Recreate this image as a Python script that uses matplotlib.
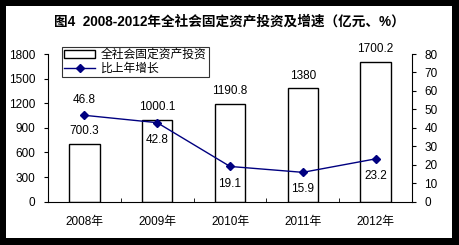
import matplotlib
matplotlib.use("Agg")
import matplotlib.pyplot as plt
from matplotlib.patches import Rectangle
import numpy as np

years = ["2008年", "2009年", "2010年", "2011年", "2012年"]
investment = [700.3, 1000.1, 1190.8, 1380, 1700.2]
growth = [46.8, 42.8, 19.1, 15.9, 23.2]
inv_labels = ["700.3", "1000.1", "1190.8", "1380", "1700.2"]
growth_labels = ["46.8", "42.8", "19.1", "15.9", "23.2"]

FONT = ["Liberation Sans", "Noto Sans CJK SC", "DejaVu Sans"]
plt.rcParams['font.family'] = FONT

fig = plt.figure(figsize=(4.59, 2.45), dpi=100)
fig.patch.set_facecolor("black")
fig.patches.append(Rectangle((6/459, 7/245), 446/459, 232/245, transform=fig.transFigure,
                             facecolor="white", edgecolor="none", zorder=-10))

ax = fig.add_axes([48/459, 43.3/245, 364/459, 147.7/245])
ax.set_facecolor("none")
x = np.arange(len(years))
ax.bar(x, investment, width=0.42, facecolor="white", edgecolor="black", linewidth=1.0,
       label="全社会固定资产投资", zorder=2)
ax.set_xlim(-0.5, 4.5)
ax.set_ylim(0, 1800)
ax.set_yticks(np.arange(0, 1801, 300))
ax.tick_params(axis='y', direction='out', length=3, labelsize=8.5, pad=6)
ax.set_xticks(x)
ax.set_xticklabels(years, fontsize=8.5)
ax.tick_params(axis='x', length=0, pad=10)
ax.set_xticks(np.arange(-0.5, 5, 1), minor=True)
ax.tick_params(axis='x', which='minor', direction='in', length=3)
for s in ["top", "right"]:
    ax.spines[s].set_visible(False)

for i, (v, t) in enumerate(zip(investment, inv_labels)):
    ax.annotate(t, (x[i], v), xytext=(0, 5), textcoords="offset points",
                ha="center", va="bottom", fontsize=8.5)

ax2 = ax.twinx()
ax2.plot(x, growth, color="#000080", marker="D", markersize=4, linewidth=1.0,
         label="比上年增长", zorder=3)
ax2.set_ylim(0, 80)
ax2.set_yticks(np.arange(0, 81, 10))
ax2.tick_params(axis='y', direction='out', length=3, labelsize=8.5, pad=6)
for s in ["top", "left", "bottom"]:
    ax2.spines[s].set_visible(False)

offsets = [(0, 7), (0, -8), (0, -8), (0, -8), (0, -8)]
for i, (v, t) in enumerate(zip(growth, growth_labels)):
    dy = offsets[i][1]
    ax2.annotate(t, (x[i], v), xytext=(0, dy), textcoords="offset points",
                 ha="center", va="bottom" if dy > 0 else "top", fontsize=8.5)

h1, l1 = ax.get_legend_handles_labels()
h2, l2 = ax2.get_legend_handles_labels()
leg = ax2.legend(h1 + h2, l1 + l2, loc="upper left", bbox_to_anchor=(14/364, 1.05),
                 fontsize=8.5, frameon=True, fancybox=False, edgecolor="black",
                 handlelength=2.6, handleheight=0.6, borderpad=0.2, labelspacing=0.15,
                 borderaxespad=0, handletextpad=0.5)
leg.get_frame().set_linewidth(0.8)
leg.set_zorder(5)

fig.text(0.5, 1 - 22/245, "图4  2008-2012年全社会固定资产投资及增速（亿元、%）",
         ha="center", va="center", fontsize=9.8, fontweight="bold")

fig.savefig("out.png", dpi=100, facecolor=fig.get_facecolor())
